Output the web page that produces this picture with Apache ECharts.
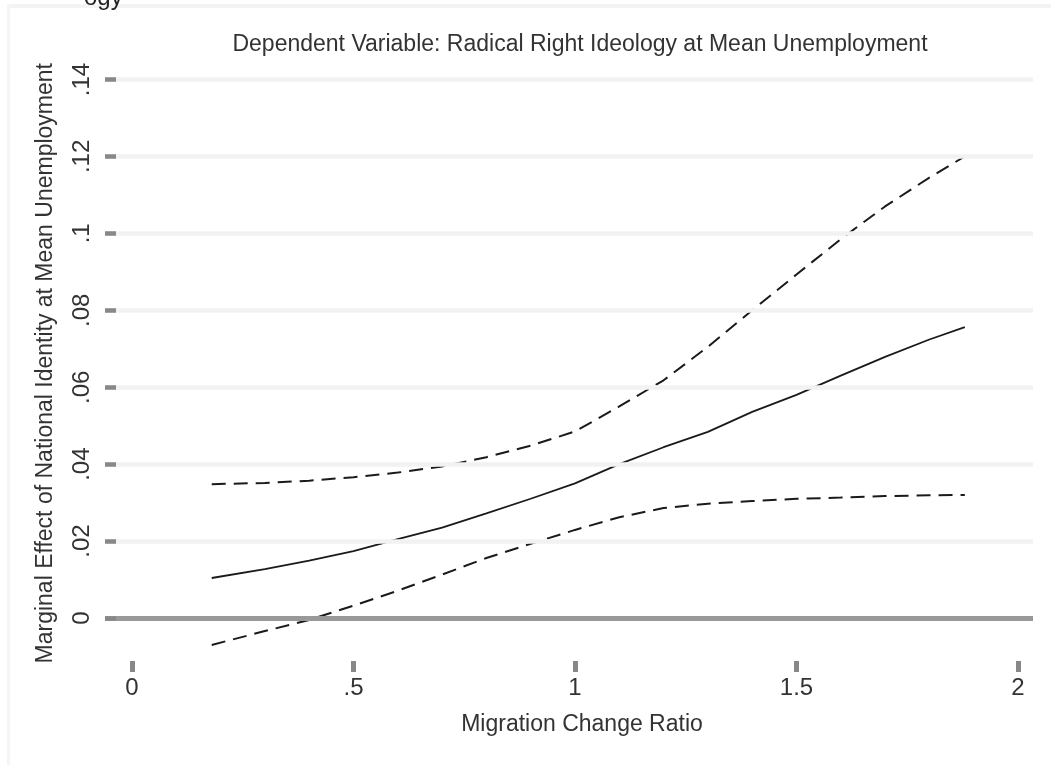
<!DOCTYPE html>
<html>
<head>
<meta charset="utf-8">
<script src="https://cdn.jsdelivr.net/npm/echarts@6/dist/echarts.min.js"></script>
<style>
  html, body { margin: 0; padding: 0; background: #fff; }
  #chart { width: 1051px; height: 765px; }
</style>
</head>
<body>
<div id="chart"></div>
<script>
// Migration change ratio (x) at which the marginal effect is evaluated
const migrationRatio = [0.18, 0.3, 0.4, 0.5, 0.6, 0.7, 0.8, 0.9, 1.0, 1.1, 1.2, 1.3, 1.4, 1.5, 1.6, 1.7, 1.8, 1.88];
// Marginal effect of national identity (solid line)
const marginalEffect = [0.0104, 0.0127, 0.0149, 0.0174, 0.0205, 0.0235, 0.0272, 0.0310, 0.0350, 0.0400, 0.0444, 0.0484, 0.0536, 0.0580, 0.0630, 0.0679, 0.0724, 0.0756];
// Upper confidence bound (dashed)
const upperBound = [0.0348, 0.0351, 0.0357, 0.0366, 0.0378, 0.0394, 0.0418, 0.0448, 0.0485, 0.0550, 0.0618, 0.0705, 0.0800, 0.0893, 0.0985, 0.1070, 0.1145, 0.1200];
// Lower confidence bound (dashed)
const lowerBound = [-0.0070, -0.0034, -0.0005, 0.0032, 0.0071, 0.0113, 0.0156, 0.0193, 0.0229, 0.0262, 0.0286, 0.0297, 0.0304, 0.0310, 0.0313, 0.0317, 0.0319, 0.0320];
// Tick values
const xTicks = [0, 0.5, 1, 1.5, 2];
const yTicks = [0, 0.02, 0.04, 0.06, 0.08, 0.1, 0.12, 0.14];

const chartTitle = 'Dependent Variable: Radical Right Ideology at Mean Unemployment';
const xTitle = 'Migration Change Ratio';
const yTitle = 'Marginal Effect of National Identity at Mean Unemployment';

function stataNum(v) {
  const r = Math.round(v * 1000) / 1000;
  if (r === 0) return '0';
  let s = String(r);
  if (s.startsWith('0.')) s = s.slice(1);
  if (s.startsWith('-0.')) s = '-' + s.slice(2);
  return s;
}

const FONT = "'Liberation Sans', Arial, sans-serif";
const pair = (ys) => migrationRatio.map((x, i) => [x, ys[i]]);

const chart = echarts.init(document.getElementById('chart'), null, { renderer: 'canvas' });
chart.setOption({
  backgroundColor: '#ffffff',
  animation: false,
  textStyle: { fontFamily: FONT },
  title: [
    {
      text: chartTitle, left: 575, top: 28, textAlign: 'center',
      textStyle: { fontFamily: FONT, fontSize: 23, fontWeight: 'normal', color: '#333' }
    },
    {
      text: xTitle, left: 577, top: 708, textAlign: 'center',
      textStyle: { fontFamily: FONT, fontSize: 23, fontWeight: 'normal', color: '#333' }
    }
  ],
  graphic: [
    { type: 'rect', shape: { x: 7, y: 4, width: 1044, height: 4 }, style: { fill: '#f3f3f3' }, silent: true },
    { type: 'rect', shape: { x: 7, y: 4, width: 3, height: 761 }, style: { fill: '#f5f5f5' }, silent: true },
    { type: 'text', left: 84, top: -14, style: { text: 'ogy', font: "24px " + FONT, fill: '#222' }, silent: true }
  ],
  grid: { left: 105, right: 18, top: 79.5, bottom: 118, containLabel: false },
  xAxis: {
    type: 'value',
    min: -0.0609, max: 2.0339,
    offset: 14,
    axisLine: { show: false, onZero: false },
    splitLine: { show: false },
    axisTick: { show: true, customValues: xTicks, length: 11, lineStyle: { color: '#888', width: 5 } },
    axisLabel: {
      customValues: xTicks, margin: 15, formatter: stataNum,
      fontFamily: FONT, fontSize: 24, color: '#333'
    }
  },
  yAxis: {
    type: 'value',
    z: 5,
    min: -0.00754, max: 0.14,
    name: yTitle, nameLocation: 'middle', nameRotate: 90, nameGap: 48,
    nameTextStyle: { fontFamily: FONT, fontSize: 23, color: '#333' },
    axisLine: { show: false, onZero: false },
    splitLine: { show: false },
    axisTick: { show: true, inside: true, customValues: yTicks, length: 11, lineStyle: { color: '#888', width: 4.5 } },
    axisLabel: {
      customValues: yTicks, rotate: 90, margin: 11, formatter: stataNum,
      fontFamily: FONT, fontSize: 24, color: '#333'
    }
  },
  series: [
    {
      type: 'line', data: [], z: 1, silent: true,
      markLine: {
        silent: true, symbol: 'none', label: { show: false },
        data: yTicks.filter(v => v !== 0).map(v => ({ yAxis: v, lineStyle: { color: '#f2f2f2', width: 4.5, type: 'solid' } }))
          .concat([{ yAxis: 0, lineStyle: { color: '#999', width: 5, type: 'solid' } }])
      }
    },
    {
      name: 'Upper', type: 'line', data: pair(upperBound), showSymbol: false, z: 3,
      lineStyle: { color: '#1a1a1a', width: 2, type: [14, 8] }
    },
    {
      name: 'Effect', type: 'line', data: pair(marginalEffect), showSymbol: false, z: 3,
      lineStyle: { color: '#1a1a1a', width: 1.8, type: 'solid' }
    },
    {
      name: 'Lower', type: 'line', data: pair(lowerBound), showSymbol: false, z: 3,
      lineStyle: { color: '#1a1a1a', width: 2, type: [14, 8] }
    }
  ]
});
</script>
</body>
</html>
